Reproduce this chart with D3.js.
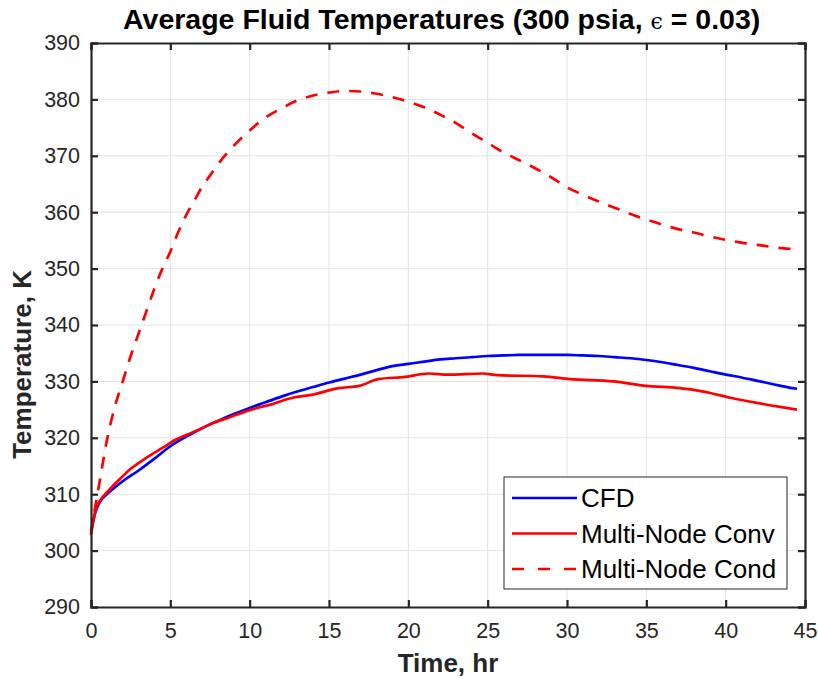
<!DOCTYPE html>
<html>
<head>
<meta charset="utf-8">
<script src="https://cdn.jsdelivr.net/npm/d3@7"></script>
<style>
  body { margin: 0; background: #fff; }
  svg { display: block; font-family: "Liberation Sans", Arial, Helvetica, sans-serif; }
</style>
</head>
<body>
<div id="chart"></div>
<script>
// CFD average fluid temperature
const cfdTime = [0, 0.3, 0.6, 1, 1.5, 2, 3, 4, 5, 6, 7, 8, 9, 10, 11, 12, 13, 14, 15, 16, 17, 18, 19, 20,
  21, 22, 23, 24, 25, 26, 27, 28, 29, 30, 31, 32, 33, 34, 35, 36, 37, 38, 39, 40, 41, 42, 43, 44, 44.5]
const cfdTemp = [303.5, 307, 308.8, 310, 311.2, 312.3, 314.2, 316.3, 318.5, 320.2, 321.7, 323.0, 324.2, 325.3,
  326.3, 327.3, 328.2, 329.0, 329.8, 330.5, 331.2, 332.0, 332.7, 333.1, 333.5, 333.9, 334.1, 334.3, 334.5,
  334.6, 334.7, 334.7, 334.7, 334.7, 334.6, 334.5, 334.3, 334.1, 333.8, 333.4, 332.9, 332.4, 331.8, 331.2,
  330.7, 330.1, 329.5, 328.9, 328.7]

// Multi-node convection model
const convTime = [0, 0.3, 0.6, 1, 1.5, 2, 2.5, 3, 3.8, 4.5, 5.3, 6, 7, 7.5, 8.7, 10.1, 11.2, 12.7, 13.9,
  15.6, 16.9, 18.1, 19.8, 21.3, 22.5, 24.7, 25.6, 28.5, 30.2, 32.9, 35, 37.1, 38.6, 40.3, 44.5]
const convTemp = [302.8, 307.3, 309, 310.3, 311.8, 313.2, 314.5, 315.5, 317.0, 318.2, 319.6, 320.5, 321.7,
  322.4, 323.6, 325.0, 325.8, 327.1, 327.6, 328.8, 329.2, 330.4, 330.8, 331.4, 331.2, 331.4, 331.1, 330.9,
  330.4, 330.0, 329.2, 328.8, 328.2, 327.1, 325.0]

// Multi-node conduction model
const condTime = [0, 0.25, 0.5, 1, 1.5, 2, 2.5, 3, 3.5, 4, 4.5, 5, 5.5, 6, 6.5, 7, 7.5, 8, 9, 10, 11, 12, 13,
  14, 15, 16, 17, 18, 19, 20, 21, 22, 23, 24, 25, 26, 27, 28, 29, 30, 31, 32, 33, 34, 35, 36, 37, 38, 39,
  40, 41, 42, 43, 44, 44.5]
const condTemp = [303, 307.5, 311.5, 319.5, 325.5, 330, 334.5, 338.5, 342.5, 346.5, 350, 353, 356.5, 359.5,
  362, 364.5, 366.5, 368.5, 371.8, 374.5, 376.8, 378.4, 379.8, 380.7, 381.2, 381.5, 381.4, 381.0, 380.4,
  379.6, 378.6, 377.3, 375.8, 374.0, 372.3, 370.6, 369.2, 367.8, 366.2, 364.4, 363.1, 361.9, 360.8, 359.7,
  358.7, 357.8, 357.0, 356.4, 355.7, 355.1, 354.6, 354.2, 353.8, 353.5, 353.4]

const xTicks = [0, 5, 10, 15, 20, 25, 30, 35, 40, 45]
const yTicks = [290, 300, 310, 320, 330, 340, 350, 360, 370, 380, 390]

const seriesNames = ["CFD", "Multi-Node Conv", "Multi-Node Cond"]
const seriesColors = ["#0000ff", "#ff0000", "#ff0000"]
const seriesDash = [null, null, "12,10"]

const width = 818, height = 679
const margin = { top: 43, right: 13, bottom: 72, left: 91 }
const iw = width - margin.left - margin.right
const ih = height - margin.top - margin.bottom
const axisColor = "#262626"

const svg = d3.select("#chart").append("svg")
  .attr("width", width)
  .attr("height", height)

const x = d3.scaleLinear().domain([0, 45]).range([margin.left, margin.left + iw])
const y = d3.scaleLinear().domain([290, 390]).range([margin.top + ih, margin.top])

// grid
svg.append("g").selectAll("line").data(xTicks.slice(1, -1)).join("line")
  .attr("x1", d => x(d)).attr("x2", d => x(d))
  .attr("y1", y(290)).attr("y2", y(390))
  .attr("stroke", "#e3e3e3").attr("stroke-width", 1)
svg.append("g").selectAll("line").data(yTicks.slice(1, -1)).join("line")
  .attr("y1", d => y(d)).attr("y2", d => y(d))
  .attr("x1", x(0)).attr("x2", x(45))
  .attr("stroke", "#e3e3e3").attr("stroke-width", 1)

// series
const series = [
  { t: cfdTime, v: cfdTemp },
  { t: convTime, v: convTemp },
  { t: condTime, v: condTemp }
]
const line = d3.line().x(d => x(d[0])).y(d => y(d[1])).curve(d3.curveMonotoneX)
series.forEach((s, i) => {
  svg.append("path")
    .datum(s.t.map((t, j) => [t, s.v[j]]))
    .attr("d", line)
    .attr("fill", "none")
    .attr("stroke", seriesColors[i])
    .attr("stroke-width", 2.7)
    .attr("stroke-dasharray", seriesDash[i])
    .attr("stroke-linejoin", "round")
})

// axes (box with inward ticks on all sides)
const tickLen = 7
const gBottom = svg.append("g").attr("transform", `translate(0,${y(290)})`)
  .call(d3.axisBottom(x).tickValues(xTicks).tickSize(-tickLen).tickPadding(16))
const gTop = svg.append("g").attr("transform", `translate(0,${y(390)})`)
  .call(d3.axisTop(x).tickValues(xTicks).tickSize(-tickLen).tickFormat(""))
const gLeft = svg.append("g").attr("transform", `translate(${x(0)},0)`)
  .call(d3.axisLeft(y).tickValues(yTicks).tickSize(-tickLen).tickPadding(11))
const gRight = svg.append("g").attr("transform", `translate(${x(45)},0)`)
  .call(d3.axisRight(y).tickValues(yTicks).tickSize(-tickLen).tickFormat(""))

;[gBottom, gTop, gLeft, gRight].forEach(g => {
  g.select(".domain").attr("stroke", axisColor).attr("stroke-width", 2.2)
  g.selectAll(".tick line").attr("stroke", axisColor).attr("stroke-width", 2.2)
  g.selectAll(".tick text").attr("fill", axisColor).attr("font-size", 21.5)
    .attr("font-family", "'Liberation Sans', Arial, sans-serif")
})

// labels
svg.append("text")
  .attr("x", x(22.5)).attr("y", 672)
  .attr("text-anchor", "middle")
  .attr("font-size", 26).attr("font-weight", "bold").attr("fill", axisColor)
  .text("Time, hr")

svg.append("text")
  .attr("transform", `translate(31,${y(333)}) rotate(-90)`)
  .attr("text-anchor", "middle")
  .attr("font-size", 26).attr("font-weight", "bold").attr("fill", axisColor)
  .text("Temperature, K")

const title = svg.append("text")
  .attr("x", x(22.1)).attr("y", 29)
  .attr("text-anchor", "middle")
  .attr("font-size", 28.5).attr("font-weight", "bold").attr("fill", "#000")
title.append("tspan").text("Average Fluid Temperatures (300 psia, ")
title.append("tspan").attr("font-weight", "normal").attr("font-family", "'DejaVu Serif', serif")
  .attr("font-size", 22).text("\u03f5")
title.append("tspan").text(" = 0.03)")

// legend
const lg = svg.append("g").attr("transform", "translate(504,477)")
lg.append("rect")
  .attr("width", 283).attr("height", 112)
  .attr("fill", "#fff").attr("stroke", axisColor).attr("stroke-width", 1)
seriesNames.forEach((name, i) => {
  const cy = 21 + i * 35.5
  lg.append("line")
    .attr("x1", 8).attr("x2", 73).attr("y1", cy).attr("y2", cy)
    .attr("stroke", seriesColors[i]).attr("stroke-width", 2.7)
    .attr("stroke-dasharray", seriesDash[i] ? "12,14" : null)
  lg.append("text")
    .attr("x", 77).attr("y", cy + 9.3)
    .attr("font-size", 26).attr("fill", "#000")
    .text(name)
})
</script>
</body>
</html>
